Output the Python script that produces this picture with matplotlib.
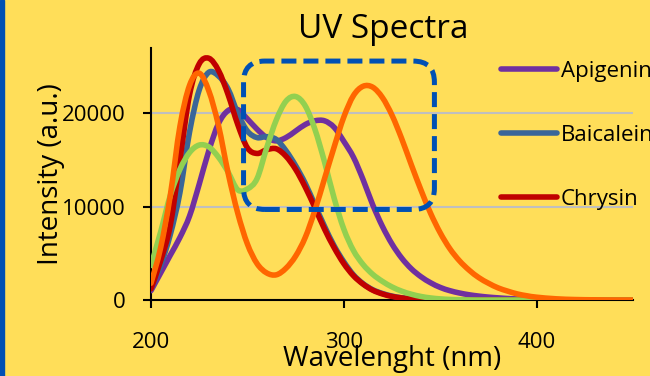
import matplotlib
matplotlib.use("Agg")
import matplotlib.pyplot as plt
from matplotlib.patches import FancyBboxPatch, Rectangle, PathPatch
from matplotlib.path import Path
from matplotlib.lines import Line2D

plt.rcParams['font.family'] = ['Open Sans', 'DejaVu Sans']

# wavelength grid (nm)
wavelength = [200, 205, 210, 215, 220, 225, 230, 235, 240, 245,
              250, 255, 260, 265, 270, 275, 280, 285, 290, 295,
              300, 305, 310, 315, 320, 325, 330, 335, 340, 345,
              350, 355, 360, 365, 370, 375, 380, 385, 390, 395,
              400, 410, 420, 430, 440, 450]

apigenin = [1000, 2900, 4800, 6700, 9000, 12400, 16000, 18900, 20300, 20400,
            19400, 18300, 17400, 17050, 17400, 18100, 18800, 19200, 19200, 18500,
            17000, 15300, 12900, 10200, 7900, 6000, 4500, 3350, 2500, 1850,
            1350, 1000, 750, 560, 420, 310, 230, 160, 110, 80,
            50, 20, 0, 0, 0, 0]

baicalein = [1200, 3700, 7000, 11500, 18000, 22500, 24400, 24000, 22600, 20000,
             18100, 17400, 17500, 17200, 16000, 14400, 12500, 10200, 7900, 5800,
             4100, 2700, 1750, 1100, 700, 420, 240, 130, 70, 35,
             15, 0, 0, 0, 0, 0, 0, 0, 0, 0,
             0, 0, 0, 0, 0, 0]

chrysin = [1200, 4200, 8000, 15000, 22000, 25300, 25900, 24600, 22000, 18800,
           16300, 15700, 16100, 16200, 15400, 14000, 12100, 9900, 7600, 5600,
           3900, 2600, 1700, 1050, 650, 380, 220, 120, 60, 30,
           10, 0, 0, 0, 0, 0, 0, 0, 0, 0,
           0, 0, 0, 0, 0, 0]

green_series = [3700, 7300, 11200, 14000, 15800, 16600, 16400, 15300, 13700, 11800,
                11900, 13000, 16300, 19300, 21300, 21800, 20800, 18300, 14800, 10900,
                7600, 5300, 3800, 2750, 2000, 1400, 950, 620, 380, 220,
                120, 60, 30, 10, 0, 0, 0, 0, 0, 0,
                0, 0, 0, 0, 0, 0]

orange_series = [1800, 5600, 11200, 18600, 23000, 24300, 22400, 18700, 13600, 9300,
                 6000, 3900, 2900, 2700, 3400, 4700, 6700, 9600, 13000, 16400,
                 19600, 21900, 22900, 22800, 21700, 19800, 17300, 14500, 11800, 9300,
                 7200, 5500, 4200, 3200, 2400, 1800, 1300, 950, 650, 450,
                 300, 130, 50, 20, 0, 0]

series_labels = ['Apigenin', 'Baicalein', 'Chrysin']
series_colors = ['#7030A0', '#3A6699', '#C00000', '#92D050', '#FF6600']
y_ticks = [0, 10000, 20000]
x_ticks = [200, 300, 400]

bg = '#FFDE59'
box_blue = '#0050B4'
lw = 4.0


def smooth_line(ax, xs, ys, color):
    # smoothed line like a spreadsheet "smooth line" series (bezier through the points)
    n = len(xs)
    verts = [(xs[0], ys[0])]
    codes = [Path.MOVETO]
    for i in range(n - 1):
        x0, y0 = xs[max(i - 1, 0)], ys[max(i - 1, 0)]
        x1, y1 = xs[i], ys[i]
        x2, y2 = xs[i + 1], ys[i + 1]
        x3, y3 = xs[min(i + 2, n - 1)], ys[min(i + 2, n - 1)]
        c1 = (x1 + (x2 - x0) / 6, y1 + (y2 - y0) / 6)
        c2 = (x2 - (x3 - x1) / 6, y2 - (y3 - y1) / 6)
        verts += [c1, c2, (x2, y2)]
        codes += [Path.CURVE4] * 3
    p = PathPatch(Path(verts, codes), fill=False, edgecolor=color, lw=lw,
                  capstyle='round', joinstyle='round', zorder=3)
    ax.add_patch(p)


fig = plt.figure(figsize=(6.5, 3.76), dpi=100, facecolor=bg)
ax = fig.add_axes([151/650, 1-300/376, 482/650, 252/376])
ax.set_facecolor(bg)

all_series = [apigenin, baicalein, chrysin, green_series, orange_series]
for ys, c in zip(all_series, series_colors):
    smooth_line(ax, wavelength, ys, c)

ax.set_xlim(200, 450)
ax.set_ylim(0, 27000)
ax.set_xticks(x_ticks)
ax.set_yticks(y_ticks)
ax.set_yticklabels([str(v) for v in y_ticks])
ax.tick_params(axis='both', labelsize=16, length=6, width=1.5, direction='out')
ax.tick_params(axis='x', pad=17)
ax.tick_params(axis='y', pad=12)
for s in ['top', 'right']:
    ax.spines[s].set_visible(False)
for s in ['left', 'bottom']:
    ax.spines[s].set_linewidth(1.5)
ax.yaxis.grid(True, color='#BFBFBF', lw=1.5, zorder=0)
ax.set_axisbelow(True)

ax.set_xlabel('Wavelenght (nm)', fontsize=20, va='center')
ax.xaxis.set_label_coords(0.5, -0.235)
ax.set_ylabel('Intensity (a.u.)', fontsize=20, va='center')
ax.yaxis.set_label_coords(-0.207, 0.5)

fig.text(383/650, 1-30/376, 'UV Spectra', ha='center', va='center', fontsize=24)

# dashed rounded highlight box
box = FancyBboxPatch((248, 9700), 99, 15900,
                     boxstyle='round,pad=0,rounding_size=11',
                     mutation_aspect=206, fill=False, edgecolor=box_blue,
                     lw=3.6, linestyle=(0, (3, 1.4)), zorder=5, clip_on=False)
ax.add_patch(box)

handles = [Line2D([], [], color=c, lw=lw, solid_capstyle='round')
           for c in series_colors[:3]]
leg = ax.legend(handles, series_labels, loc='upper left',
                bbox_to_anchor=(501/650, 1-61/376), bbox_transform=fig.transFigure,
                frameon=False, fontsize=16, handlelength=2.5, handletextpad=0.2,
                labelspacing=1.93, borderpad=0, borderaxespad=0)

# blue strip on the left edge
fig.patches.append(Rectangle((0, 0), 4/650, 1, transform=fig.transFigure,
                             color=box_blue, zorder=10))

fig.savefig('out.png', dpi=100, facecolor=bg)
